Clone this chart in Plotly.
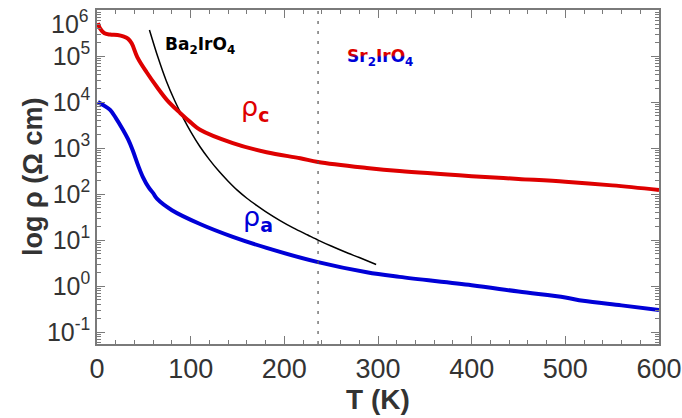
import plotly.graph_objects as go

# ---- data ----
T_c = [1, 3, 8, 14, 22, 28, 33, 37, 43, 53, 64, 75, 89, 100, 110, 145, 181, 217, 236, 288, 323, 400, 450, 500, 550, 600]
logrho_c = [5.72, 5.61, 5.50, 5.47, 5.46, 5.43, 5.38, 5.28, 4.98, 4.65, 4.33, 4.04, 3.76, 3.56, 3.40, 3.11, 2.91, 2.78, 2.70, 2.57, 2.50, 2.39, 2.33, 2.27, 2.19, 2.09]

T_a = [1, 8, 14, 20, 28, 33, 38, 44, 49, 55, 60, 64, 80, 110, 145, 181, 236, 288, 323, 400, 450, 500, 519, 560, 600]
logrho_a = [4.00, 3.92, 3.83, 3.66, 3.39, 3.20, 2.96, 2.62, 2.37, 2.15, 2.02, 1.90, 1.65, 1.35, 1.07, 0.83, 0.52, 0.30, 0.20, 0.02, -0.12, -0.25, -0.32, -0.42, -0.52]

T_ba = [56, 65, 74, 83, 92, 100, 110, 120, 130, 140, 150, 160, 170, 180, 195, 210, 225, 236, 250, 265, 280, 298]
logrho_ba = [5.57, 4.98, 4.46, 4.03, 3.66, 3.36, 3.03, 2.75, 2.50, 2.28, 2.08, 1.91, 1.76, 1.62, 1.43, 1.26, 1.11, 1.00, 0.87, 0.74, 0.62, 0.47]

T_transition = 236

ytick_exps = [-1, 0, 1, 2, 3, 4, 5, 6]

rho_c = [10 ** v for v in logrho_c]
rho_a = [10 ** v for v in logrho_a]
rho_ba = [10 ** v for v in logrho_ba]

RED = "rgb(222,0,0)"
BLUE = "rgb(0,0,215)"
AXC = "#7a7a7a"
TXT = "#333333"

fig = go.Figure()
fig.add_trace(go.Scatter(x=T_ba, y=rho_ba, mode="lines", line=dict(color="black", width=1.5, shape="spline", smoothing=0.8), showlegend=False))
fig.add_trace(go.Scatter(x=T_c, y=rho_c, mode="lines", line=dict(color=RED, width=4, shape="spline"), showlegend=False))
fig.add_trace(go.Scatter(x=T_a, y=rho_a, mode="lines", line=dict(color=BLUE, width=4, shape="spline"), showlegend=False))

fig.add_shape(type="line", x0=T_transition, x1=T_transition, xref="x", yref="paper", y0=0, y1=1,
              line=dict(color="#555555", width=1.2, dash="3px,7px"))

fig.add_annotation(x=110, y=5.24, xref="x", yref="y", text="<b>Ba<sub>2</sub>IrO<sub>4</sub></b>",
                   showarrow=False, font=dict(family="DejaVu Sans", size=17, color="black"))
fig.add_annotation(x=302, y=4.98, xref="x", yref="y", text="<b>Sr<sub>2</sub>IrO<sub>4</sub></b>",
                   showarrow=False, font=dict(family="DejaVu Sans", size=17, color=BLUE))
fig.add_annotation(x=169, y=3.86, xref="x", yref="y", text="ρ<sub><b>c</b></sub>",
                   showarrow=False, font=dict(family="DejaVu Sans", size=27, color=RED))
fig.add_annotation(x=172, y=1.47, xref="x", yref="y", text="ρ<sub><b>a</b></sub>",
                   showarrow=False, font=dict(family="DejaVu Sans", size=27, color=BLUE))
# y-axis title
fig.add_annotation(x=-0.114, y=0.5, xref="paper", yref="paper", xanchor="center", yanchor="middle",
                   text="<b>log ρ (Ω cm)</b>", textangle=-90, showarrow=False,
                   font=dict(family="Liberation Sans", size=27, color=TXT))

# top tick label (drawn lower so it is not clipped, as in the reference)
top_exp = ytick_exps[-1]
fig.add_annotation(x=0, y=top_exp, xref="paper", yref="y", xanchor="right", yanchor="middle",
                   xshift=-6, yshift=-12, text="10<sup>%d</sup>" % top_exp, showarrow=False,
                   font=dict(family="Liberation Sans", size=25, color=TXT))

fig.update_layout(
    width=682, height=418,
    margin=dict(l=97, r=23, t=10, b=74, autoexpand=False),
    paper_bgcolor="white", plot_bgcolor="white",
    font=dict(family="Liberation Sans", color=TXT),
)
fig.update_xaxes(
    range=[0, 600], tickmode="linear", tick0=0, dtick=100,
    ticks="inside", ticklen=8, tickwidth=1.2, tickcolor=AXC,
    minor=dict(ticks="inside", ticklen=4, tickwidth=1, tickcolor=AXC, dtick=20),
    showline=True, linecolor=AXC, linewidth=1.5, mirror="ticks",
    showgrid=False, zeroline=False, automargin=False,
    tickfont=dict(size=27, color=TXT),
    title=dict(text="<b>T (K)</b>", font=dict(size=28, color=TXT), standoff=2),
)
fig.update_yaxes(
    type="log", range=[-1.26, 6.004],
    tickvals=[10 ** e for e in ytick_exps],
    ticktext=["10<sup>%d</sup>" % e if e != top_exp else "" for e in ytick_exps],
    ticks="inside", ticklen=8, tickwidth=1.2, tickcolor=AXC,
    minor=dict(ticks="inside", ticklen=4, tickwidth=1, tickcolor=AXC, dtick="D1"),
    showline=True, linecolor=AXC, linewidth=1.5, mirror="ticks",
    showgrid=False, zeroline=False, automargin=False,
    tickfont=dict(size=25, color=TXT),
)

post = """
document.body.style.margin = '0';
document.body.style.padding = '0';
var gd = document.getElementById('{plot_id}');
function applyGrad(){
  try {
  var ns='http://www.w3.org/2000/svg';
  var svgs = gd.querySelectorAll('svg.main-svg');
  if(!svgs.length) return;
  var svg = svgs[svgs.length-1];
  if(!document.getElementById('srgrad')){
    var defs = document.createElementNS(ns,'defs');
    svg.insertBefore(defs, svg.firstChild);
    var lg=document.createElementNS(ns,'linearGradient');
    lg.setAttribute('id','srgrad');
    lg.setAttribute('x1','0'); lg.setAttribute('y1','0'); lg.setAttribute('x2','0'); lg.setAttribute('y2','1');
    [['0','rgb(222,0,0)'],['0.40','rgb(222,0,0)'],['0.50','rgb(0,0,215)'],['1','rgb(0,0,215)']].forEach(function(s){
      var st=document.createElementNS(ns,'stop'); st.setAttribute('offset',s[0]); st.setAttribute('stop-color',s[1]); lg.appendChild(st);
    });
    defs.appendChild(lg);
  }
  gd.querySelectorAll('text').forEach(function(t){
    var s = t.textContent || '';
    if(s.indexOf('Sr')>=0 && s.indexOf('IrO')>=0){
      t.style.setProperty('fill','url(#srgrad)','important');
      t.querySelectorAll('tspan').forEach(function(sp){ sp.style.setProperty('fill','url(#srgrad)','important'); });
    }
  });
  } catch(e) { console.log(e); }
}
applyGrad();
setTimeout(applyGrad, 50);
if (gd.on) gd.on('plotly_afterplot', function(){ setTimeout(applyGrad, 0); });
"""

fig.write_html("out.html", post_script=post, config={"displayModeBar": False})
